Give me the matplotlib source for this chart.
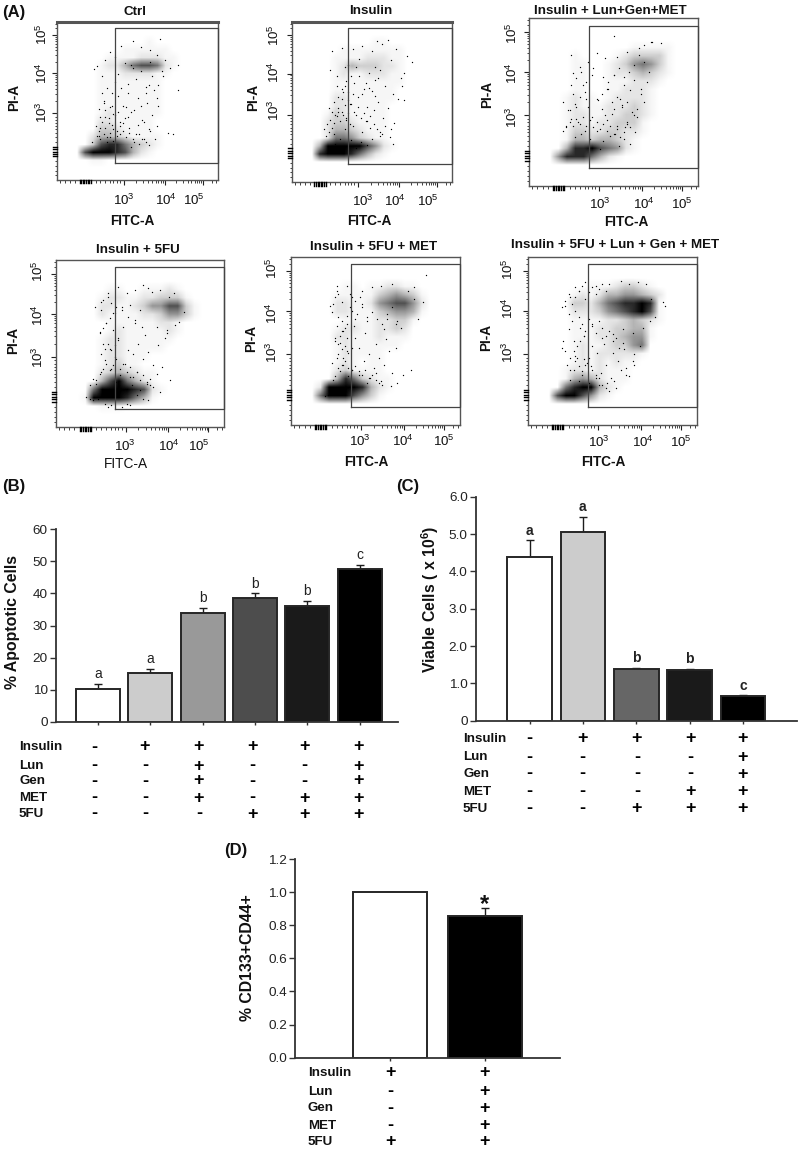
#!/usr/bin/env python3
"""Flow cytometry dot plots and three bar panels, figure (A)-(D)."""

import matplotlib
matplotlib.use('Agg')
import matplotlib.pyplot as plt
import numpy as np

plt.rcParams['font.family'] = ['Liberation Sans', 'DejaVu Sans']
plt.rcParams['mathtext.fontset'] = 'custom'
plt.rcParams['mathtext.rm'] = 'Liberation Sans'
plt.rcParams['mathtext.bf'] = 'Liberation Sans:bold'
plt.rcParams['mathtext.default'] = 'regular'

W, H = 798, 1154

# ---- panel A: event density, 20 x 20 cells, top row first ----
CTRL_DENSITY = [
    "00000000000000000000",
    "00000000000000000000",
    "00000000000100000000",
    "00000000111111000000",
    "00000011112221100000",
    "00000122467762100000",
    "00000111222211000000",
    "00000111111110000000",
    "00000111111110000000",
    "00000111111110000000",
    "00000111111110000000",
    "00000121111110000000",
    "00000221111100000000",
    "00000332111100000000",
    "00002443211110000000",
    "00003788643210000000",
    "00079998742100000000",
    "00001100000000000000",
    "00000000000000000000",
    "00000000000000000000",
]
INSULIN_DENSITY = [
    "00000000000000000000",
    "00000000000000000000",
    "00000000001100000000",
    "00000011111111000000",
    "00000111122211000000",
    "00000124333221000000",
    "00000121122211000000",
    "00000111111111000000",
    "00000111111110000000",
    "00000221111110000000",
    "00000221111100000000",
    "00001321111100000000",
    "00002332111100000000",
    "00002443211100000000",
    "00002665321100000000",
    "00049999975210000000",
    "00089998642100000000",
    "00000000000000000000",
    "00000000000000000000",
    "00000000000000000000",
]
LGM_DENSITY = [
    "00000000000000000000",
    "00000000000000000000",
    "00000000000000000000",
    "00000000000011111000",
    "00000100001233331000",
    "00000110012356531000",
    "00000110012234321000",
    "00000110011122210000",
    "00000110011222100000",
    "00001211012222100000",
    "00001211122232100000",
    "00001221122332100000",
    "00001221223331000000",
    "00001332233221000000",
    "00001443443210000000",
    "00004889765210000000",
    "00058886421000000000",
    "00000000000000000000",
    "00000000000000000000",
    "00000000000000000000",
]
FU_DENSITY = [
    "00000000000000000000",
    "00000000000000000000",
    "00000000000000000000",
    "00000011001112100000",
    "00000122112233310000",
    "00000221123557731000",
    "00000211112235531000",
    "00000011111122100000",
    "00000012111112100000",
    "00000122111111000000",
    "00000122111110000000",
    "00000122111000000000",
    "00000123110000000000",
    "00000234321100000000",
    "00000479642100000000",
    "00006999987210000000",
    "00019999864100000000",
    "00000111000000000000",
    "00000000000000000000",
    "00000000000000000000",
]
FU_MET_DENSITY = [
    "00000000000000000000",
    "00000000000000000000",
    "00000000000000000000",
    "00000011011221100000",
    "00000111113454310000",
    "00000221125677520000",
    "00000221113455410000",
    "00000011112233100000",
    "00000122112232000000",
    "00000221112111000000",
    "00000121111110000000",
    "00000121111000000000",
    "00000121011000000000",
    "00000231111000000000",
    "00000486321100000000",
    "00029999842100000000",
    "00069997531000000000",
    "00000000000000000000",
    "00000000000000000000",
    "00000000000000000000",
]
COMBO_DENSITY = [
    "00000000000000000000",
    "00000000000000000000",
    "00000000000000000000",
    "00000001112332100000",
    "00000121244554320000",
    "00000332467889810000",
    "00000222356789710000",
    "00000111122343210000",
    "00000111223344100000",
    "00000111223455100000",
    "00000121123356000000",
    "00000121222221000000",
    "00000121212110000000",
    "00001221211100000000",
    "00001454211100000000",
    "00006899421000000000",
    "00079975210000000000",
    "00000000000000000000",
    "00000000000000000000",
    "00000000000000000000",
]

# single events as percent of the frame, x then y from the bottom
CTRL_X = [47, 64, 75, 69, 72, 75, 25, 33, 40, 52, 58, 62, 28, 31, 36, 44, 49, 55, 60, 66, 29, 34, 38, 43, 50, 56,
          63, 30, 35, 41, 46, 53, 59, 27, 32, 37, 45, 51, 57, 61, 26, 33, 39, 48, 54, 65, 30, 36, 42, 58, 70, 67,
          23, 28, 44, 52, 57, 62, 38, 47,
          24, 26, 28, 30, 32, 34, 25, 27, 29, 31, 33, 35, 37, 39, 41, 43, 45, 47, 49, 51, 53, 55, 57, 30, 33, 36,
          39, 42, 22, 26, 46, 50, 54, 58, 62, 44, 48, 52, 31, 35, 27, 29, 38, 41, 55, 59, 63, 34, 40, 46]
CTRL_Y = [88, 89, 57, 30, 29, 73, 72, 81, 85, 84, 82, 79, 66, 58, 62, 61, 64, 59, 57, 66, 50, 47, 53, 46, 52, 49,
          47, 40, 42, 36, 43, 38, 41, 33, 36, 31, 33, 29, 32, 26, 28, 27, 29, 24, 26, 69, 76, 78, 74, 75, 71, 76,
          70, 55, 55, 69, 60, 52, 67, 71,
          34, 31, 37, 33, 39, 35, 28, 26, 29, 27, 30, 32, 28, 34, 31, 27, 30, 26, 29, 23, 26, 24, 22, 44, 46, 41,
          37, 39, 24, 45, 21, 35, 37, 31, 34, 40, 44, 47, 24, 25, 40, 49, 43, 47, 55, 66, 60, 55, 58, 73]
INSULIN_X = [53, 56, 60, 25, 31, 38, 44, 50, 65, 72, 75, 70, 24, 28, 35, 42, 48, 55, 62, 68, 33, 39, 45, 52, 58,
             63, 69, 31, 36, 41, 47, 54, 60, 66, 29, 34, 40, 46, 51, 57, 64, 33, 38, 44, 49, 55, 61, 26, 30, 37,
             43, 50, 56, 63, 23, 70, 47, 52, 40, 35,
             20, 22, 24, 26, 28, 30, 32, 34, 36, 21, 23, 25, 27, 29, 31, 33, 35, 37, 39, 41, 43, 45, 47, 49, 51,
             53, 55, 26, 29, 32, 35, 38, 28, 31, 34, 37, 44, 48, 52, 42, 46, 50, 33, 25, 58, 62, 27, 30, 40, 54]
INSULIN_Y = [88, 86, 89, 82, 84, 83, 85, 82, 83, 79, 75, 68, 70, 66, 73, 77, 68, 70, 76, 65, 60, 62, 58, 64, 60,
             55, 60, 52, 49, 53, 47, 50, 46, 52, 44, 40, 42, 38, 45, 40, 37, 33, 35, 31, 34, 29, 28, 30, 27, 26,
             25, 27, 30, 24, 46, 51, 23, 72, 72, 56,
             33, 36, 39, 37, 41, 38, 42, 39, 36, 29, 31, 34, 42, 46, 44, 48, 43, 49, 44, 47, 40, 43, 38, 41, 36,
             33, 31, 50, 53, 56, 51, 55, 60, 58, 63, 66, 55, 59, 54, 66, 62, 57, 72, 44, 35, 33, 24, 22, 21, 65]
LGM_X = [50, 72, 73, 78, 65, 68, 58, 52, 45, 40, 25, 30, 26, 35, 38, 44, 50, 56, 62, 70, 66, 60, 54, 47, 41, 32,
         26, 20, 23, 28, 34, 43, 49, 55, 61, 64, 68, 58, 52, 46, 40, 37, 22, 29, 31, 48, 56, 63, 60, 53, 44, 36,
         27, 33, 25, 42, 51, 57, 66, 71,
         20, 22, 24, 26, 28, 30, 32, 34, 36, 38, 40, 42, 44, 46, 48, 50, 52, 54, 56, 58, 60, 62, 64, 24, 27, 30,
         33, 25, 28, 31, 34, 37, 43, 46, 49, 52, 55, 58, 47, 50, 53, 56, 59, 62, 65, 68, 35, 40, 45, 50]
LGM_Y = [89, 86, 86, 85, 82, 84, 80, 77, 76, 79, 78, 71, 67, 74, 70, 65, 66, 60, 63, 62, 55, 57, 52, 58, 51, 60,
         55, 50, 45, 47, 52, 46, 43, 48, 44, 41, 50, 37, 36, 39, 33, 41, 36, 38, 31, 30, 28, 32, 25, 24, 27, 28,
         29, 33, 40, 22, 31, 35, 58, 68,
         33, 35, 38, 36, 40, 37, 41, 36, 39, 35, 38, 34, 37, 33, 36, 31, 34, 29, 32, 38, 35, 42, 46, 45, 49, 53,
         56, 60, 64, 68, 62, 66, 55, 58, 50, 53, 47, 50, 62, 66, 70, 65, 68, 72, 78, 74, 47, 52, 42, 46]
FU_X = [55, 70, 52, 47, 42, 37, 28, 31, 23, 27, 33, 76, 73, 67, 62, 57, 50, 44, 39, 30, 26, 34, 40, 47, 53, 60,
        66, 28, 32, 37, 43, 49, 55, 61, 65, 29, 35, 41, 46, 52, 58, 27, 33, 38, 44, 48, 54, 63, 24, 36, 60, 68, 71,
        45, 50, 25, 31, 56, 62, 66,
        18, 20, 22, 24, 26, 28, 30, 32, 34, 36, 38, 40, 42, 44, 46, 48, 50, 52, 54, 56, 58, 27, 29, 31, 33, 35, 37,
        26, 28, 30, 32, 34, 36, 27, 31, 35, 39, 43, 47, 51, 22, 20, 48, 52, 55, 42, 44, 39, 33, 29]
FU_Y = [83, 80, 85, 82, 80, 84, 76, 80, 72, 70, 74, 69, 63, 78, 82, 81, 70, 73, 70, 62, 57, 58, 60, 64, 55, 60,
        58, 50, 47, 52, 46, 50, 45, 49, 53, 40, 42, 38, 44, 41, 37, 33, 35, 31, 30, 33, 27, 36, 28, 27, 32, 28,
        61, 25, 22, 17, 12, 25, 21, 56,
        18, 17, 16, 26, 32, 35, 38, 34, 37, 41, 35, 38, 33, 36, 30, 33, 28, 31, 26, 29, 24, 44, 47, 50, 46, 49, 53,
        56, 59, 62, 65, 68, 72, 75, 78, 68, 72, 66, 62, 60, 29, 25, 19, 17, 16, 14, 13, 12, 13, 14]
FU_MET_X = [80, 69, 73, 60, 53, 48, 42, 33, 27, 30, 24, 36, 78, 75, 65, 62, 55, 45, 38, 30, 26, 32, 38, 44, 50, 56,
            62, 28, 33, 40, 46, 52, 58, 27, 31, 36, 43, 49, 55, 60, 24, 29, 34, 40, 47, 53, 63, 25, 59, 66, 71, 45,
            37, 50, 23, 28, 35, 42, 57, 73,
            20, 22, 24, 26, 28, 30, 32, 34, 36, 38, 40, 42, 44, 46, 48, 50, 52, 54, 28, 30, 32, 34, 36, 26, 29, 31,
            33, 27, 30, 33, 36, 39, 42, 45, 48, 51, 54, 57, 60, 63, 29, 31, 33, 26, 28, 25, 27, 35, 38, 41]
FU_MET_Y = [89, 80, 82, 84, 83, 82, 80, 83, 80, 73, 67, 76, 73, 63, 58, 60, 57, 62, 63, 56, 52, 58, 52, 55, 48, 51,
            46, 48, 44, 46, 42, 40, 44, 40, 36, 33, 38, 34, 36, 31, 37, 32, 29, 30, 28, 26, 25, 27, 23, 30, 33, 25,
            59, 31, 71, 64, 70, 72, 63, 75,
            17, 18, 19, 29, 34, 36, 38, 34, 33, 35, 32, 30, 33, 28, 30, 27, 25, 24, 42, 45, 47, 43, 46, 50, 53, 56,
            60, 59, 62, 65, 68, 66, 70, 64, 67, 63, 60, 66, 70, 62, 49, 40, 52, 76, 78, 72, 83, 78, 74, 76]
COMBO_X = [80, 81, 73, 70, 65, 60, 55, 48, 40, 30, 25, 22, 28, 34, 75, 72, 68, 62, 56, 50, 44, 38, 31, 24, 20, 27,
           33, 38, 45, 50, 57, 63, 66, 29, 35, 41, 46, 53, 58, 62, 27, 32, 37, 43, 49, 55, 60, 25, 30, 36, 40, 47,
           52, 58, 22, 28, 33, 42, 51, 63,
           20, 22, 24, 26, 28, 30, 32, 34, 36, 38, 40, 42, 44, 46, 24, 26, 28, 30, 32, 34, 36, 38, 40, 42, 44, 46,
           48, 50, 52, 54, 56, 25, 27, 29, 31, 33, 21, 23, 25, 28, 30, 32, 34, 36, 38, 40, 42, 44, 46, 48]
COMBO_Y = [73, 71, 75, 84, 85, 84, 86, 84, 83, 80, 76, 71, 82, 85, 64, 62, 58, 55, 57, 54, 52, 60, 58, 57, 46, 50,
           53, 47, 48, 43, 45, 42, 47, 40, 37, 43, 36, 38, 34, 38, 33, 30, 35, 31, 28, 33, 29, 27, 26, 25, 28, 25,
           22, 30, 44, 41, 39, 24, 26, 36,
           70, 74, 78, 72, 76, 80, 83, 75, 79, 82, 78, 81, 84, 80, 66, 62, 68, 64, 60, 56, 63, 59, 55, 62, 58, 53,
           56, 50, 52, 46, 49, 40, 44, 47, 50, 53, 50, 36, 33, 38, 35, 32, 36, 40, 33, 30, 28, 24, 22, 20]

# ---- panels B, C, D: bar heights, upper error, significance letters ----
B_VALUES = [10.2, 15.1, 34.0, 38.5, 36.2, 47.5]
B_ERRORS = [1.6, 1.4, 1.5, 1.5, 1.4, 1.3]
B_LETTERS = ['a', 'a', 'b', 'b', 'b', 'c']
B_FILLS = ['#ffffff', '#cccccc', '#999999', '#4d4d4d', '#1a1a1a', '#000000']
B_TICKS = [0, 10, 20, 30, 40, 50, 60]
B_ROWS = {
    'Insulin': '-+++++',
    'Lun': '--+--+',
    'Gen': '--+--+',
    'MET': '--+-++',
    '5FU': '---+++',
}

C_VALUES = [4.38, 5.05, 1.38, 1.35, 0.65]
C_ERRORS = [0.45, 0.41, 0.04, 0.04, 0.03]
C_LETTERS = ['a', 'a', 'b', 'b', 'c']
C_FILLS = ['#ffffff', '#cccccc', '#666666', '#1a1a1a', '#000000']
C_TICKS = [0, 1, 2, 3, 4, 5, 6]
C_TICK_LABELS = ['0', '1.0', '2.0', '3.0', '4.0', '5.0', '6.0']
C_ROWS = {
    'Insulin': '-++++',
    'Lun': '----+',
    'Gen': '----+',
    'MET': '---++',
    '5FU': '--+++',
}

D_VALUES = [1.0, 0.857]
D_ERRORS = [0.0, 0.048]
D_FILLS = ['#ffffff', '#000000']
D_TICKS = [0.0, 0.2, 0.4, 0.6, 0.8, 1.0, 1.2]
D_ROWS = {
    'Insulin': '++',
    'Lun': '-+',
    'Gen': '-+',
    'MET': '-+',
    '5FU': '++',
}

fig = plt.figure(figsize=(W / 100, H / 100), dpi=100, facecolor='white')


def px_axes(x0, y0, x1, y1):
    """Axes from pixel box, y counted from the top of the image."""
    return fig.add_axes([x0 / W, 1 - y1 / H, (x1 - x0) / W, (y1 - y0) / H])


def px_text(x, y, s, **kw):
    kw.setdefault('ha', 'center')
    kw.setdefault('va', 'center')
    kw.setdefault('color', '#111111')
    return fig.text(x / W, 1 - y / H, s, **kw)


def decade_minors(lo, hi):
    return [lo + np.log10(k) * (hi - lo) for k in range(2, 10)]


X_MAJOR = [41.4, 66.9, 90.7]
Y_MAJOR = [42.1, 67.8, 91.6]
X_MINOR = [2, 5, 8, 11, 24, 27, 30, 33, 35, 37, 39] + decade_minors(41.4, 66.9) + decade_minors(66.9, 90.7) + [96, 99]
Y_MINOR = [3, 6, 9, 12, 24, 27, 30, 32, 34, 36, 38, 40] + decade_minors(42.1, 67.8) + decade_minors(67.8, 91.6) + [96, 99]
X_BLOCK = [14, 15, 16, 17, 18, 19, 20, 21]
Y_BLOCK = [15, 16.5, 18, 19.5, 21]


def flow_panel(frame, gate, density, dots_x, dots_y, title, title_xy, x_labels, y_labels,
               pi_xy, fitc_xy, fitc_weight='bold', heavy_top=False):
    x0, y0, x1, y1 = frame
    ax = px_axes(x0, y0, x1, y1)
    grid = np.array([[int(c) for c in row] for row in density], dtype=float)
    # gamma keeps the sparse haze pale so the single dots carry the grain
    ax.imshow((grid / 9) ** 1.5, cmap='gray_r', vmin=0, vmax=1, extent=[0, 100, 0, 100],
              aspect='auto', interpolation='bilinear', zorder=1)
    ax.scatter(dots_x, dots_y, s=0.9, c='black', linewidths=0, zorder=2)
    ax.set_xlim(0, 100)
    ax.set_ylim(0, 100)

    # gate rectangle, open to the right edge of the frame
    gx = (gate[0] - x0) / (x1 - x0) * 100
    gt = (y1 - gate[1]) / (y1 - y0) * 100
    gb = (y1 - gate[2]) / (y1 - y0) * 100
    ax.plot([gx, gx, 100, 100, gx], [gb, gt, gt, gb, gb], color='#444444', lw=0.9, zorder=3, clip_on=False)

    for side in ax.spines.values():
        side.set_color('#555555')
        side.set_linewidth(1.0)
    if heavy_top:
        ax.spines['top'].set_linewidth(2.2)

    ax.set_xticks(X_MAJOR)
    ax.set_yticks(Y_MAJOR)
    ax.set_xticks(X_MINOR, minor=True)
    ax.set_yticks(Y_MINOR, minor=True)
    ax.tick_params(which='major', length=3.5, width=0.8, color='#222222', labelbottom=False, labelleft=False)
    ax.tick_params(which='minor', length=1.8, width=0.6, color='#222222')
    for p in X_BLOCK:
        ax.plot([p, p], [-2.2, 0], color='black', lw=1.0, clip_on=False, zorder=4)
    for p in Y_BLOCK:
        ax.plot([-2.2, 0], [p, p], color='black', lw=1.0, clip_on=False, zorder=4)

    px_text(title_xy[0], title_xy[1], title, fontsize=9.6, fontweight='bold')
    for exp, (lx, ly) in zip(['3', '4', '5'], x_labels):
        px_text(lx, ly, f'$10^{exp}$', fontsize=9.6)
    for exp, (lx, ly) in zip(['3', '4', '5'], y_labels):
        px_text(lx, ly, f'$10^{exp}$', fontsize=9.6, rotation=90)
    px_text(pi_xy[0], pi_xy[1], 'PI-A', fontsize=9.8, fontweight='bold', rotation=90)
    px_text(fitc_xy[0], fitc_xy[1], 'FITC-A', fontsize=9.8, fontweight=fitc_weight)


flow_panel((57, 22, 218, 180), (115, 28, 163), CTRL_DENSITY, CTRL_X, CTRL_Y, 'Ctrl', (135, 12),
           [(124, 200), (166, 200), (194, 200)], [(42, 112), (42, 73), (42, 34)], (14, 97), (132, 221), heavy_top=True)
flow_panel((292, 22, 452, 182), (348, 28, 164), INSULIN_DENSITY, INSULIN_X, INSULIN_Y, 'Insulin', (371, 11),
           [(363, 201), (395, 201), (428, 201)], [(274, 110), (274, 72), (274, 35)], (253, 97), (369, 221), heavy_top=True)
flow_panel((529, 18, 698, 186), (589, 26, 168), LGM_DENSITY, LGM_X, LGM_Y, 'Insulin + Lun+Gen+MET', (610, 11),
           [(600, 204), (644, 204), (682, 204)], [(512, 117), (512, 73), (512, 33)], (487, 94), (626, 222))
flow_panel((56, 260, 224, 427), (115, 267, 409), FU_DENSITY, FU_X, FU_Y, 'Insulin + 5FU', (138, 250),
           [(125, 446), (169, 446), (199, 446)], [(38, 357), (38, 315), (38, 271)], (13, 340), (126, 464),
           fitc_weight='normal')
flow_panel((291, 257, 460, 425), (351, 264, 407), FU_MET_DENSITY, FU_MET_X, FU_MET_Y, 'Insulin + 5FU + MET', (374, 247),
           [(360, 441), (403, 441), (444, 441)], [(272, 352), (272, 313), (272, 268)], (251, 338), (366, 462))
flow_panel((528, 257, 697, 425), (588, 264, 407), COMBO_DENSITY, COMBO_X, COMBO_Y, 'Insulin + 5FU + Lun + Gen + MET', (615, 245),
           [(599, 442), (643, 442), (681, 442)], [(508, 352), (508, 308), (508, 269)], (486, 337), (603, 462))


def bar_panel(box, ylim, first_center, spacing, bar_px, values, errors, fills, yticks, ytick_labels,
              ylabel, ylabel_xy, letters=None, letter_weight='normal'):
    x0, y0, x1, y1 = box
    ax = px_axes(x0, y0, x1, y1)
    ax.patch.set_alpha(0)
    xs = np.arange(len(values))
    ax.bar(xs, values, width=bar_px / spacing, color=fills, edgecolor='#262626', linewidth=1.4, zorder=2)
    ax.errorbar(xs, values, yerr=[np.zeros(len(errors)), errors], fmt='none', ecolor='#1c1c1c',
                elinewidth=1.0, capsize=2.7, capthick=1.0, zorder=1)
    ax.set_xlim((x0 - first_center) / spacing, (x1 - first_center) / spacing)
    ax.set_ylim(*ylim)
    ax.set_xticks(xs)
    ax.set_xticklabels([])
    ax.set_yticks(yticks)
    ax.set_yticklabels(ytick_labels, fontsize=9.7, color='#222222')
    ax.tick_params(axis='y', length=4, width=1.0, color='#333333', pad=2)
    ax.tick_params(axis='x', length=2.5, width=1.0, color='#333333')
    ax.spines['top'].set_visible(False)
    ax.spines['right'].set_visible(False)
    for name in ('left', 'bottom'):
        ax.spines[name].set_linewidth(1.3)
        ax.spines[name].set_color('#333333')
    if letters:
        for x, v, e, s in zip(xs, values, errors, letters):
            ax.annotate(s, (x, v + e), xytext=(0, 2), textcoords='offset points', ha='center', va='bottom',
                        fontsize=10, fontweight=letter_weight, color='#222222')
    px_text(ylabel_xy[0], ylabel_xy[1], ylabel, fontsize=11.4, fontweight='bold', rotation=90)
    return ax


def sign_table(rows, label_x, row_ys, col_xs, fontsize=9.6):
    for (name, signs), y in zip(rows.items(), row_ys):
        px_text(label_x, y, name, ha='left', fontsize=fontsize, fontweight='bold')
        for s, x in zip(signs, col_xs):
            px_text(x, y, s, fontsize=13, fontweight='bold', color='black')


bar_panel((56, 529.3, 398, 721.7), (0, 60), 98, 52.3, 44, B_VALUES, B_ERRORS, B_FILLS, B_TICKS,
          [str(t) for t in B_TICKS], '% Apoptotic Cells', (13, 622), letters=B_LETTERS)
sign_table(B_ROWS, 19, [747, 766, 781, 798, 814], [94, 145, 199, 252, 304, 359])

bar_panel((476, 496.7, 797, 720.7), (0, 6), 529.5, 53.4, 44.5, C_VALUES, C_ERRORS, C_FILLS, C_TICKS,
          C_TICK_LABELS, r'Viable Cells ( x 10$\mathbf{^{6}}$)', (430, 599), letters=C_LETTERS, letter_weight='bold')
sign_table(C_ROWS, 463, [738.7, 757.3, 774, 791.7, 808.7], [529, 582, 637, 690, 743])

ax_d = bar_panel((295.3, 859, 560, 1057.7), (0, 1.2), 390, 94.8, 74.5, D_VALUES, D_ERRORS, D_FILLS, D_TICKS,
                 [f'{t:.1f}' for t in D_TICKS], '% CD133+CD44+', (248, 958))
ax_d.annotate('*', (1, D_VALUES[1] + D_ERRORS[1]), xytext=(0, -6), textcoords='offset points',
              ha='center', va='bottom', fontsize=17, fontweight='bold', color='#111111')
sign_table(D_ROWS, 308, [1072.7, 1091.7, 1108.3, 1125.7, 1141.7], [390, 484])

for s, x, y in [('(A)', 2, 12), ('(B)', 2, 487), ('(C)', 396, 487), ('(D)', 224, 850)]:
    px_text(x, y, s, ha='left', fontsize=12, fontweight='bold')

fig.savefig('out.png', dpi=100, facecolor='white')
